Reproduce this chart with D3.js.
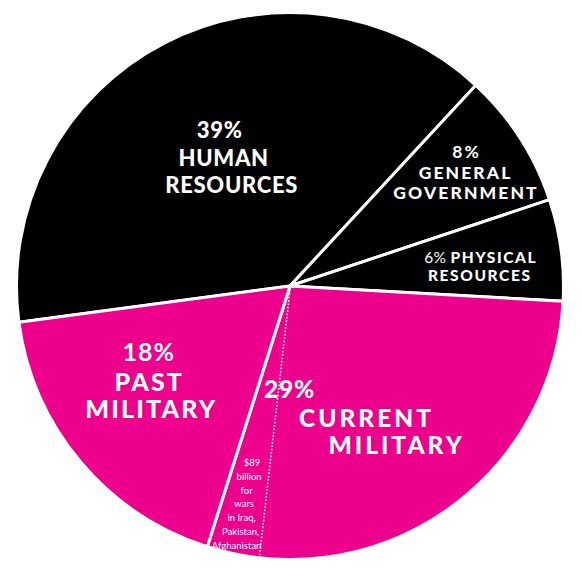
<!DOCTYPE html>
<html><head><meta charset="utf-8">
<script src="https://cdn.jsdelivr.net/npm/d3@7"></script>
<style>
html,body{margin:0;padding:0;background:#fff;}
svg{display:block;}
text{font-family:Lato,"Open Sans",sans-serif;fill:#fff;}
</style></head>
<body>
<svg id="chart" width="582" height="576"></svg>
<script>
// ---- data ----
const categories = ["HUMAN RESOURCES","GENERAL GOVERNMENT","PHYSICAL RESOURCES","CURRENT MILITARY","PAST MILITARY"];
const shares = [39, 8, 6, 29, 18];
const pctLabels = ["39%","8%","6%","29%","18%"];
const sliceColors = ["#000000","#000000","#000000","#EC008C","#EC008C"];
const warsShare = 3.1; // part of current military share
const warsNote = ["$89","billion","for","wars","in Iraq,","Pakistan,","Afghanistan"];

// ---- layout ----
const cx = 290, cy = 286, R = 273.5;
const startDeg = -97.6;
const rad = d => d * Math.PI / 180;

const svg = d3.select("#chart");
const g = svg.append("g").attr("transform", `translate(${cx},${cy})`);

const pie = d3.pie().sort(null).value(d => d.v)
  .startAngle(rad(startDeg)).endAngle(rad(startDeg + 360));
const data = categories.map((c, i) => ({c, v: shares[i], col: sliceColors[i], pct: pctLabels[i]}));
const arcs = pie(data);
const arc = d3.arc().innerRadius(0).outerRadius(R);

g.selectAll("path.slice").data(arcs).join("path")
  .attr("class", "slice")
  .attr("d", arc)
  .attr("fill", d => d.data.col)
  .attr("stroke", "#fff")
  .attr("stroke-width", 3)
  .attr("stroke-linejoin", "miter");

// wars sub-slice dotted divider
const cm = arcs[3];
const angScale = d3.scaleLinear().domain([0, d3.sum(shares)]).range([0, 2 * Math.PI]);
const warsAngle = cm.endAngle - angScale(warsShare);
const polar = (a, r) => [r * Math.sin(a), -r * Math.cos(a)];
const pEnd = polar(warsAngle, R - 2);
g.append("line")
  .attr("x1", 0).attr("y1", 4)
  .attr("x2", pEnd[0]).attr("y2", pEnd[1])
  .attr("stroke", "#fff").attr("stroke-width", 1.6)
  .attr("stroke-dasharray", "1.6,1.8");

// ---- labels ----
const labelSpec = [
  {i:0, da:2.6, r:140, size:22, ls:0.7, lines:[
    {t:pctLabels[0], dx:-12, dy:-21},
    {t:"HUMAN", dx:-8, dy:7},
    {t:"RESOURCES", dx:0, dy:34}]},
  {i:1, da:-0.1, r:209, size:17.5, ls:2.1, lines:[
    {t:pctLabels[1], dx:0, dy:-14.5, w:700},
    {t:"GENERAL", dx:-1, dy:7},
    {t:"GOVERNMENT", dx:-0.5, dy:27}]},
  {i:2, da:1.6, r:191, size:15.5, ls:1.6, lines:[
    {t:pctLabels[2] + " ", dx:0, dy:-3, mixed:"PHYSICAL", lsPct:0.3},
    {t:"RESOURCES", dx:-1, dy:14.5}]},
  {i:3, da:5, r:152, size:24.5, ls:3, lines:[
    {t:pctLabels[3], dx:-76, dy:-20, ls:0.8},
    {t:"CURRENT", dx:0, dy:9},
    {t:"MILITARY", dx:30, dy:36}]},
  {i:4, da:6, r:171, size:25, ls:2.2, lines:[
    {t:pctLabels[4], dx:0, dy:-20.5, w:700, ls:1},
    {t:"PAST", dx:0, dy:9},
    {t:"MILITARY", dx:2, dy:36.5}]}
];

labelSpec.forEach(s => {
  const a = arcs[s.i];
  const mid = (a.startAngle + a.endAngle) / 2 + rad(s.da);
  const [ax, ay] = polar(mid, s.r);
  s.lines.forEach(l => {
    const ls = l.ls != null ? l.ls : s.ls;
    const t = g.append("text")
      .attr("x", ax + l.dx + ls / 2).attr("y", ay + l.dy)
      .attr("text-anchor", "middle")
      .attr("font-size", s.size)
      .attr("font-weight", l.w || 900)
      .attr("letter-spacing", ls);
    if (l.mixed) {
      t.append("tspan").attr("font-weight", 400).attr("letter-spacing", l.lsPct).text(l.t);
      t.append("tspan").attr("font-weight", 900).attr("letter-spacing", ls).text(l.mixed);
    } else {
      t.text(l.t);
    }
  });
});

// wars note
const warsMid = (warsAngle + cm.endAngle) / 2;
const [wx, wy] = polar(warsMid, 230);
const warsDx = [10, 7, 4.5, 2, -0.5, -1.5, -5.5];
warsNote.forEach((t, k) => {
  g.append("text")
    .attr("x", wx + warsDx[k])
    .attr("y", wy - 45 + k * 13.8)
    .attr("text-anchor", "middle")
    .attr("font-family", "'DejaVu Sans Condensed','Liberation Sans Narrow',sans-serif")
    .attr("font-stretch", "condensed")
    .attr("font-size", 9.5)
    .text(t);
});
</script>
</body></html>
